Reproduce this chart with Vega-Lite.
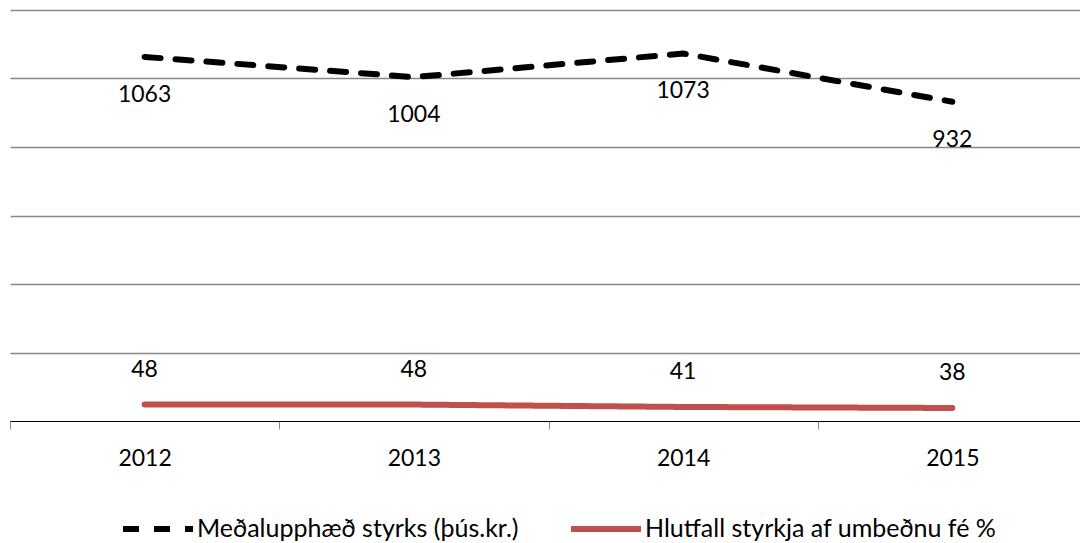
{
  "$schema": "https://vega.github.io/schema/vega-lite/v6.json",
  "width": 1070,
  "height": 411,
  "autosize": {"type": "none"},
  "padding": {"left": 10, "top": 10, "right": 0, "bottom": 122},
  "background": "white",
  "config": {"view": {"stroke": null}, "font": "Lato"},
  "data": {
    "values": [
      {"year": "2012", "series": "Meðalupphæð styrks (þús.kr.)", "value": 1063},
      {"year": "2013", "series": "Meðalupphæð styrks (þús.kr.)", "value": 1004},
      {"year": "2014", "series": "Meðalupphæð styrks (þús.kr.)", "value": 1073},
      {"year": "2015", "series": "Meðalupphæð styrks (þús.kr.)", "value": 932},
      {"year": "2012", "series": "Hlutfall styrkja af umbeðnu fé %", "value": 48},
      {"year": "2013", "series": "Hlutfall styrkja af umbeðnu fé %", "value": 48},
      {"year": "2014", "series": "Hlutfall styrkja af umbeðnu fé %", "value": 41},
      {"year": "2015", "series": "Hlutfall styrkja af umbeðnu fé %", "value": 38}
    ]
  },
  "encoding": {
    "x": {
      "field": "year",
      "type": "ordinal",
      "bandPosition": 0.5,
      "scale": {"type": "band", "range": [0, 1077], "paddingInner": 0, "paddingOuter": 0},
      "axis": {
        "title": null,
        "labelAngle": 0,
        "labelFontSize": 23,
        "labelColor": "#000000",
        "labelPadding": 18,
        "domainColor": "#000000",
        "domainWidth": 1,
        "tickColor": "#888888",
        "tickSize": 8,
        "tickWidth": 1,
        "tickBand": "extent",
        "grid": false
      }
    },
    "y": {
      "field": "value",
      "type": "quantitative",
      "scale": {"domain": [0, 1200], "nice": false},
      "axis": {
        "title": null,
        "labels": false,
        "ticks": false,
        "domain": false,
        "grid": true,
        "gridColor": "#888888",
        "gridWidth": 1.5,
        "values": [200, 400, 600, 800, 1000, 1200]
      }
    }
  },
  "layer": [
    {
      "mark": {"type": "line", "strokeWidth": 6, "strokeCap": "round"},
      "encoding": {
        "color": {
          "field": "series",
          "type": "nominal",
          "scale": {
            "domain": ["Meðalupphæð styrks (þús.kr.)", "Hlutfall styrkja af umbeðnu fé %"],
            "range": ["#000000", "#c0504d"]
          },
          "legend": {
            "title": null,
            "orient": "none",
            "legendX": 110,
            "legendY": 481,
            "direction": "horizontal",
            "symbolType": "stroke",
            "symbolSize": 4900,
            "symbolStrokeWidth": 6,
            "labelFontSize": 25,
            "labelLimit": 0,
            "labelColor": "#000000",
            "labelOffset": 1,
            "columnPadding": 40
          }
        },
        "strokeDash": {
          "field": "series",
          "type": "nominal",
          "scale": {
            "domain": ["Meðalupphæð styrks (þús.kr.)", "Hlutfall styrkja af umbeðnu fé %"],
            "range": [[16, 15], [1, 0]]
          },
          "legend": null
        }
      }
    },
    {
      "transform": [{"filter": "datum.series === 'Meðalupphæð styrks (þús.kr.)'"}],
      "mark": {"type": "text", "dy": 38, "fontSize": 23, "color": "#000000"},
      "encoding": {"text": {"field": "value", "type": "quantitative"}}
    },
    {
      "transform": [{"filter": "datum.series === 'Hlutfall styrkja af umbeðnu fé %'"}],
      "mark": {"type": "text", "dy": -35, "fontSize": 23, "color": "#000000"},
      "encoding": {"text": {"field": "value", "type": "quantitative"}}
    }
  ]
}
